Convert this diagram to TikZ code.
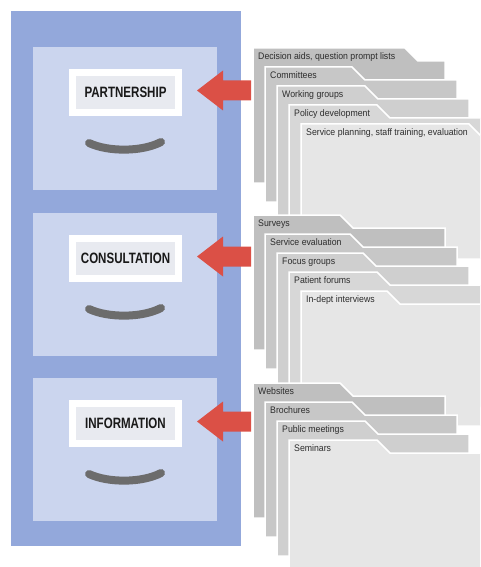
\documentclass[tikz,border=0pt]{standalone}
\usepackage{fontspec}
\setmainfont{Liberation Sans}
\newfontfamily\cardfont[FakeStretch=0.92]{Liberation Sans}
\newfontfamily\labfont[FakeStretch=0.77]{Liberation Sans Bold}
\definecolor{cabblue}{RGB}{147,168,219}
\definecolor{drawerblue}{RGB}{203,213,238}
\definecolor{labinner}{RGB}{232,234,240}
\definecolor{arrowred}{RGB}{219,80,70}
\definecolor{handlegray}{RGB}{108,108,108}
\definecolor{ca}{RGB}{191,191,191}
\definecolor{cb}{RGB}{199,199,199}
\definecolor{cc}{RGB}{207,207,207}
\definecolor{cd}{RGB}{215,215,215}
\definecolor{ce}{RGB}{230,230,230}
\definecolor{cardtxt}{RGB}{45,45,45}
\definecolor{labtxt}{RGB}{25,25,25}
\tikzset{
  cardedge/.style={draw=white, line width=1.5pt, line join=miter},
  cardtext/.style={inner sep=0pt, anchor=base west, text=cardtxt, font=\cardfont\fontsize{9.5}{10}\selectfont},
  labelbox/.style={draw=white, line width=7pt, fill=labinner, minimum width=106pt, minimum height=40pt, inner sep=0pt, text=labtxt, font=\labfont\fontsize{15}{15}\selectfont},
  handle/.style={draw=handlegray, line width=8pt, line cap=round},
  bigarrow/.style={fill=arrowred}
}
\newcommand\mycard[7]{%
  \filldraw[cardedge, fill=#5] (#1,#2) -- (#3,#2) -- ({#3+13},{#2+13}) -- (#4,{#2+13}) -- (#4,{#2+135}) -- (#1,{#2+135}) -- cycle;
  \node[cardtext] (#6) at ({#1+5},{#2+11.5}) {#7};
}
\newcommand\mydrawer[3]{%
  \fill[drawerblue] (33,#1) rectangle (217,{#1+143});
  \node[labelbox] (#2) at (125.5,{#1+45.5}) {#3};
  \draw[handle] (89,{#1+96}) .. controls (108,{#1+105}) and (142,{#1+105}) .. (161,{#1+95});
  \fill[bigarrow] (197,{#1+43.5}) -- (223,{#1+23.5}) -- (223,{#1+33.5}) -- (251,{#1+33.5}) -- (251,{#1+53.5}) -- (223,{#1+53.5}) -- (223,{#1+63.5}) -- cycle;
}
\begin{document}
\begin{tikzpicture}[x=1pt,y=-1pt]
\useasboundingbox (0,0) rectangle (480,567);
\clip (0,0) rectangle (480,567);
\fill[white] (0,0) rectangle (480,567);
% cabinet
\fill[cabblue] (11,11) rectangle (241,546);
\mydrawer{47}{partner}{PARTNERSHIP}
\mydrawer{213}{consult}{CONSULTATION}
\mydrawer{378}{inform}{INFORMATION}
% group 1
\mycard{253}{48}{405}{445}{ca}{g1a}{Decision aids, question prompt lists}
\mycard{265}{67}{352}{457}{cb}{g1b}{Committees}
\mycard{277}{86}{365}{469}{cc}{g1c}{Working groups}
\mycard{289}{105}{377}{481}{cd}{g1d}{Policy development}
\mycard{301}{124}{469}{493}{ce}{g1e}{Service planning, staff training, evaluation}
% group 2
\mycard{253}{215}{340}{445}{ca}{g2a}{Surveys}
\mycard{265}{234}{350}{457}{cb}{g2b}{Service evaluation}
\mycard{277}{253}{363}{469}{cc}{g2c}{Focus groups}
\mycard{289}{272}{377}{481}{cd}{g2d}{Patient forums}
\mycard{301}{291}{387}{493}{ce}{g2e}{In-dept interviews}
% group 3
\mycard{253}{383}{340}{445}{ca}{g3a}{Websites}
\mycard{265}{402}{352}{457}{cb}{g3b}{Brochures}
\mycard{277}{421}{365}{469}{cc}{g3c}{Public meetings}
\mycard{289}{440}{377}{493}{ce}{g3d}{Seminars}
\end{tikzpicture}
\end{document}
